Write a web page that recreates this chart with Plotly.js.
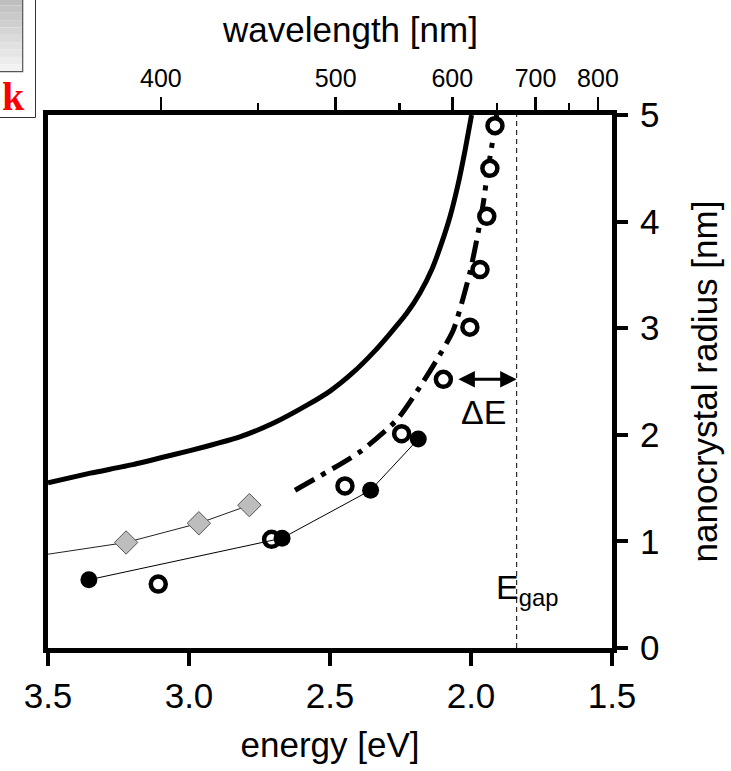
<!DOCTYPE html>
<html>
<head>
<meta charset="utf-8">
<script src="https://cdn.plot.ly/plotly-3.0.1.min.js"></script>
<style>html,body{margin:0;padding:0;background:#fff;}#chart{width:731px;height:771px;}</style>
</head>
<body>
<div id="chart"></div>
<script>
// ---- data ----
// solid thick curve (energy eV, radius nm)
const solidE = [3.50, 3.35, 3.20, 3.06, 2.94, 2.82, 2.70, 2.58, 2.50, 2.42, 2.34, 2.287, 2.228, 2.181, 2.139, 2.104, 2.074, 2.045, 2.021, 1.998];
const solidR = [1.55, 1.64, 1.72, 1.81, 1.89, 1.98, 2.11, 2.28, 2.41, 2.58, 2.79, 2.95, 3.14, 3.33, 3.55, 3.80, 4.05, 4.36, 4.67, 5.00];
// dash-dot curve
const dashE = [2.624, 2.394, 2.263, 2.181, 2.122, 2.063, 2.004, 1.968, 1.953, 1.944, 1.915, 1.909];
const dashR = [1.48, 1.84, 2.14, 2.45, 2.70, 2.98, 3.52, 3.99, 4.23, 4.42, 4.89, 5.00];
// open circles
const openE = [1.915, 1.933, 1.944, 1.968, 2.004, 2.098, 2.246, 2.447, 2.707, 3.109];
const openR = [4.90, 4.50, 4.05, 3.55, 3.01, 2.52, 2.01, 1.52, 1.02, 0.60];
// filled circles (connected by thin line)
const filledE = [3.355, 2.670, 2.356, 2.187];
const filledR = [0.64, 1.03, 1.48, 1.96];
// gray diamonds (connected by thin line, line continues past left edge)
const diamondE = [3.60, 3.223, 2.965, 2.786];
const diamondR = [0.84, 0.99, 1.17, 1.34];
// band gap and Delta E arrow
const Egap = 1.838;
const deltaEStart = 2.05;
const deltaER = 2.52;
// axis ticks
const energyTicks = [3.5, 3.0, 2.5, 2.0, 1.5];
const energyLabels = ['3.5', '3.0', '2.5', '2.0', '1.5'];
const radiusTicks = [0, 1, 2, 3, 4, 5];
const waveMajor = [400, 500, 600, 700, 800];
const waveMinor = [450, 550, 650, 750];
const HC = 1239.84; // eV*nm, wavelength -> energy

// ---- layout helpers (pixel -> paper) ----
const L = 48, R = 612, T = 115, B = 648;
const px = x => (x - L) / (R - L);
const py = y => (B - y) / (B - T);
const FONT = 'Liberation Sans, Arial, sans-serif';

const traces = [
  {x: solidE, y: solidR, mode: 'lines', line: {color: '#000', width: 5, shape: 'spline', smoothing: 0.5}, hoverinfo: 'skip'},
  {x: dashE, y: dashR, mode: 'lines', line: {color: '#000', width: 5, dash: '22px,8px,5px,8px', shape: 'spline', smoothing: 0.6}, hoverinfo: 'skip'},
  {x: diamondE, y: diamondR, mode: 'lines+markers', line: {color: '#222', width: 1},
   marker: {symbol: 'diamond', size: 18, color: '#bdbdbd', line: {color: '#555', width: 1}}},
  {x: openE, y: openR, mode: 'markers',
   marker: {symbol: 'circle', size: 15, color: '#fff', line: {color: '#000', width: 4.5}}},
  {x: filledE, y: filledR, mode: 'lines+markers', line: {color: '#000', width: 1},
   marker: {symbol: 'circle', size: 17, color: '#000'}},
  {x: [Egap, Egap], y: [0, 5], xaxis: 'x2', mode: 'lines', line: {color: '#000', width: 1, dash: '5px,4px'}, hoverinfo: 'skip'}
];

// gradient box (top-left fragment)
const shapes = [];
const nG = 10;
for (let i = 0; i < nG; i++) {
  const y0 = -2 + i * (73.7 / nG), y1 = -2 + (i + 1) * (73.7 / nG);
  const g = Math.round(190 + i * (52 / (nG - 1)));
  shapes.push({type: 'rect', xref: 'paper', yref: 'paper', x0: px(-3), x1: px(22.7), y0: py(y1), y1: py(y0),
    fillcolor: `rgb(${g},${g},${g})`, line: {width: 0}, layer: 'above'});
}
shapes.push({type: 'rect', xref: 'paper', yref: 'paper', x0: px(-3), x1: px(22.7), y0: py(71.7), y1: py(-3),
  fillcolor: 'rgba(0,0,0,0)', line: {color: '#555', width: 1.2}, layer: 'above'});
shapes.push({type: 'rect', xref: 'paper', yref: 'paper', x0: px(-3), x1: px(35.5), y0: py(117.5), y1: py(-3),
  fillcolor: 'rgba(0,0,0,0)', line: {color: '#333', width: 1}, layer: 'above'});

const layout = {
  width: 731, height: 771,
  margin: {l: L, r: 731 - R, t: T, b: 771 - B, pad: 0},
  paper_bgcolor: '#fff', plot_bgcolor: '#fff',
  showlegend: false,
  font: {family: FONT, color: '#000'},
  xaxis: {
    range: [3.5, 1.5], tickmode: 'array', tickvals: energyTicks, ticktext: energyLabels,
    ticks: 'outside', ticklen: 13, tickwidth: 4, tickcolor: '#000',
    showline: true, linewidth: 5, linecolor: '#000', mirror: false,
    showgrid: false, zeroline: false,
    tickfont: {size: 35, family: FONT},
    title: {text: 'energy [eV]', font: {size: 35, family: FONT}, standoff: 20}
  },
  xaxis2: {
    overlaying: 'x', side: 'top', anchor: 'y', range: [3.5, 1.5],
    tickmode: 'array', tickvals: waveMajor.map(l => HC / l), ticktext: waveMajor.map(String),
    ticks: 'outside', ticklen: 13, tickwidth: 2.5, tickcolor: '#000',
    minor: {tickmode: 'array', tickvals: waveMinor.map(l => HC / l), ticks: 'outside', ticklen: 7, tickwidth: 2.5, tickcolor: '#000', showgrid: false},
    showline: true, linewidth: 5, linecolor: '#000',
    showgrid: false, zeroline: false,
    tickfont: {size: 25, family: FONT}
  },
  yaxis: {
    range: [0, 5], side: 'right', tickmode: 'array', tickvals: radiusTicks,
    ticks: 'outside', ticklen: 11, tickwidth: 4, tickcolor: '#000', ticklabelstandoff: 5,
    showline: true, linewidth: 5, linecolor: '#000', mirror: true,
    showgrid: false, zeroline: false,
    tickfont: {size: 35, family: FONT},
    title: {text: 'nanocrystal radius [nm]', font: {size: 35, family: FONT}, standoff: 36}
  },
  shapes: shapes,
  annotations: [
    {xref: 'paper', yref: 'paper', x: px(350), y: py(30), text: 'wavelength [nm]', showarrow: false,
     xanchor: 'center', yanchor: 'middle', font: {size: 35, family: FONT}},
    {xref: 'x', yref: 'y', x: Egap, y: deltaER, ax: deltaEStart, ay: deltaER, axref: 'x', ayref: 'y',
     text: '', showarrow: true, arrowside: 'end+start', arrowhead: 2, startarrowhead: 2,
     arrowsize: 1.1, startarrowsize: 1.1, arrowwidth: 3, arrowcolor: '#000'},
    {xref: 'x', yref: 'y', x: 1.954, y: 2.21, text: '\u0394E', showarrow: false,
     xanchor: 'center', yanchor: 'middle', font: {size: 34, family: FONT}},
    {xref: 'x', yref: 'y', x: 1.918, y: 0.55, text: 'E<sub>gap</sub>', showarrow: false,
     xanchor: 'left', yanchor: 'middle', font: {size: 34, family: FONT}},
    {xref: 'paper', yref: 'paper', x: px(13), y: py(97), text: '<b>k</b>', showarrow: false,
     xanchor: 'center', yanchor: 'middle', font: {size: 40, family: 'Liberation Serif, Times New Roman, serif', color: '#ff0000'}}
  ]
};

Plotly.newPlot('chart', traces, layout, {staticPlot: true, displayModeBar: false});
</script>
</body>
</html>
